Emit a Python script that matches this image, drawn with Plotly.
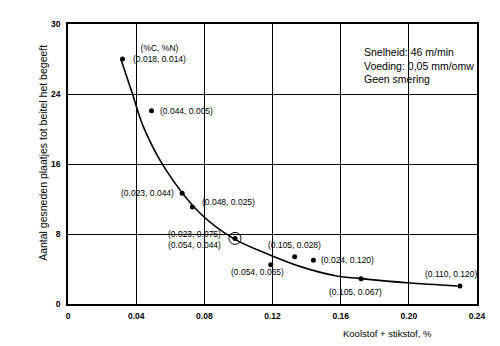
import plotly.graph_objects as go

# Data (x = %C + %N, y = number of plates cut until tool failure)
carbon = [0.018, 0.044, 0.023, 0.048, 0.023, 0.054, 0.105, 0.024, 0.105, 0.110]
nitrogen = [0.014, 0.005, 0.044, 0.025, 0.075, 0.065, 0.028, 0.120, 0.067, 0.120]
x_total = [0.032, 0.049, 0.067, 0.073, 0.098, 0.119, 0.133, 0.144, 0.172, 0.230]
plates = [28.0, 22.1, 12.65, 11.1, 7.5, 4.5, 5.4, 5.0, 2.9, 2.05]

curve_x = [0.031, 0.0376, 0.0442, 0.0569, 0.0775, 0.097, 0.1185, 0.136, 0.1577, 0.1708, 0.1988, 0.2285]
curve_y = [28.0, 24.15, 20.27, 15.5, 10.37, 7.5, 5.6, 4.3, 3.2, 2.93, 2.43, 2.06]

x_ticks = [0, 0.04, 0.08, 0.12, 0.16, 0.20, 0.24]
x_ticktext = ["0", "0.04", "0.08", "0.12", "0.16", "0.20", "0.24"]
y_ticks = [0, 8, 16, 24, 32]
y_ticktext = ["0", "8", "16", "24", "30"]

labels = [
    "(%C, %N)<br>(0.018, 0.014)",
    "(0.044, 0.005)",
    "(0.023, 0.044)",
    "(0.048, 0.025)",
    "(0.023, 0.075)<br>(0.054, 0.044)",
    "(0.054, 0.065)",
    "(0.105, 0.028)",
    "(0.024, 0.120)",
    "(0.105, 0.067)",
    "(0.110, 0.120)",
]
# label placement: (xanchor, xshift, yshift)
label_pos = [
    ("left", 8, 6),
    ("left", 6, 0),
    ("right", -6, 0),
    ("left", 8, 5),
    ("right", -12, -1),
    ("center", -13, -7),
    ("center", 0, 12),
    ("left", 6, 0),
    ("center", -6, -13),
    ("center", -9, 12),
]

FONT = "Liberation Sans, Arial, sans-serif"
TICKFONT = dict(family="Liberation Sans Narrow, Arial Narrow, Liberation Sans, Arial", size=8.5, color="black", weight="bold")

fig = go.Figure()
fig.add_trace(go.Scatter(x=curve_x, y=curve_y, mode="lines",
                         line=dict(color="black", width=1.6, shape="spline", smoothing=1.0),
                         hoverinfo="skip", showlegend=False))
fig.add_trace(go.Scatter(x=x_total, y=plates, mode="markers",
                         marker=dict(color="black", size=5),
                         customdata=list(zip(carbon, nitrogen)),
                         showlegend=False))
# circled reference point
fig.add_trace(go.Scatter(x=[x_total[4]], y=[plates[4]], mode="markers",
                         marker=dict(color="rgba(0,0,0,0)", size=12, line=dict(color="black", width=1)),
                         showlegend=False, hoverinfo="skip"))

for i, txt in enumerate(labels):
    xa, xs, ys = label_pos[i]
    fig.add_annotation(x=x_total[i], y=plates[i], text=txt, showarrow=False,
                       xanchor=xa, yanchor="middle", xshift=xs, yshift=ys,
                       align="center", font=dict(family=FONT, size=8.5, color="black"))

fig.add_annotation(xref="paper", yref="paper", x=0.72, y=0.93, xanchor="left", yanchor="top",
                   text="Snelheid: 46 m/min<br>Voeding: 0,05 mm/omw<br>Geen smering",
                   showarrow=False, align="left",
                   font=dict(family=FONT, size=10.5, color="black"))

fig.add_annotation(xref="paper", yref="paper", x=0.78, y=-0.08, xanchor="center", yanchor="top",
                   text="Koolstof + stikstof, %", showarrow=False,
                   font=dict(family=FONT, size=9.5, color="black"))
fig.add_annotation(xref="paper", yref="paper", x=-0.061, y=0.54, xanchor="center", yanchor="middle",
                   text="Aantal gesneden plaatjes tot beitel het begeeft", textangle=-90, showarrow=False,
                   font=dict(family=FONT, size=10.5, color="black"))

fig.update_xaxes(range=[0, 0.24], tickvals=x_ticks, ticktext=x_ticktext, showgrid=True,
                 gridcolor="black", gridwidth=1, zeroline=False, showline=True, linecolor="black",
                 linewidth=1.5, mirror=True, ticks="", tickfont=TICKFONT, ticklabelstandoff=3)
fig.update_yaxes(range=[0, 32], tickvals=y_ticks, ticktext=y_ticktext, showgrid=True,
                 gridcolor="black", gridwidth=1, zeroline=False, showline=True, linecolor="black",
                 linewidth=1.5, mirror=True, ticks="", tickfont=TICKFONT, ticklabelstandoff=4)

fig.update_layout(width=500, height=346, margin=dict(l=68, r=23, t=24, b=42),
                  plot_bgcolor="white", paper_bgcolor="white", showlegend=False)

fig.write_html("out.html")
